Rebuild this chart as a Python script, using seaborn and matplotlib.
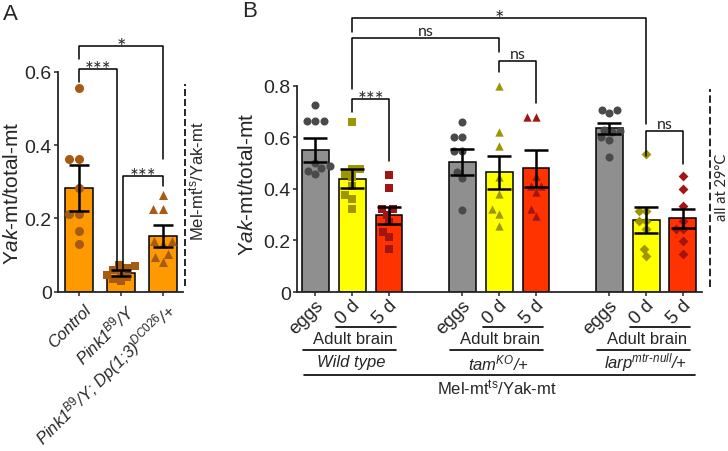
import warnings
import numpy as np
import pandas as pd
import matplotlib.pyplot as plt
import matplotlib.transforms as mtransforms
import seaborn as sns

warnings.filterwarnings('ignore')

# Panel A values (Yak-mt / total-mt)
a_labels = ['Control', 'Pink1$^{B9}$/Y', 'Pink1$^{B9}$/Y; Dp(1;3)$^{DC026}$/+']
a_means = [0.283, 0.051, 0.152]
a_sems = [0.063, 0.007, 0.031]
a_control = [0.555, 0.362, 0.362, 0.282, 0.212, 0.212, 0.165, 0.130]
a_pink1 = [0.074, 0.070, 0.066, 0.058, 0.052, 0.046, 0.040, 0.034, 0.028]
a_rescue = [0.264, 0.225, 0.225, 0.139, 0.139, 0.130, 0.103, 0.096, 0.082]

# Panel B values
b_groups = ['Wild type', 'tam$^{KO}$/+', 'larp$^{mtr\\text{-}null}$/+']
b_conds = ['eggs', '0 d', '5 d']
b_means = [0.552, 0.440, 0.297, 0.504, 0.464, 0.481, 0.635, 0.280, 0.286]
b_sems = [0.047, 0.036, 0.033, 0.050, 0.065, 0.072, 0.021, 0.050, 0.036]
wt_eggs = [0.726, 0.663, 0.663, 0.663, 0.500, 0.490, 0.480, 0.470, 0.458]
wt_0d = [0.659, 0.478, 0.478, 0.460, 0.445, 0.413, 0.377, 0.361, 0.322]
wt_5d = [0.454, 0.403, 0.322, 0.322, 0.300, 0.271, 0.232, 0.212, 0.167]
tam_eggs = [0.659, 0.601, 0.601, 0.549, 0.549, 0.465, 0.441, 0.320]
tam_0d = [0.801, 0.623, 0.568, 0.445, 0.381, 0.322, 0.303, 0.258]
tam_5d = [0.678, 0.678, 0.452, 0.413, 0.413, 0.387, 0.322, 0.296]
larp_eggs = [0.708, 0.708, 0.695, 0.630, 0.625, 0.620, 0.600, 0.590, 0.523]
larp_0d = [0.536, 0.316, 0.316, 0.277, 0.277, 0.245, 0.167, 0.141]
larp_5d = [0.449, 0.400, 0.335, 0.277, 0.245, 0.245, 0.199, 0.148]
b_points = [wt_eggs, wt_0d, wt_5d, tam_eggs, tam_0d, tam_5d, larp_eggs, larp_0d, larp_5d]

bar_cols = {'eggs': '#8f8f8f', '0 d': '#ffff00', '5 d': '#ff3300'}
dot_cols = {'eggs': '#4a4a4a', '0 d': '#9e9600', '5 d': '#a31515'}
grp_markers = ['s', '^', 'D']

sns.set_style('ticks')
plt.rcParams['font.family'] = ['Liberation Sans', 'DejaVu Sans']
plt.rcParams['mathtext.fontset'] = 'custom'
plt.rcParams['mathtext.rm'] = 'Liberation Sans'
plt.rcParams['mathtext.it'] = 'Liberation Sans:italic'
plt.rcParams['mathtext.bf'] = 'Liberation Sans:bold'

fig = plt.figure(figsize=(7.28, 4.52), dpi=100)
axA = fig.add_axes([58 / 728, (452 - 292.7) / 452, 125 / 728, 272.7 / 452])
axB = fig.add_axes([297 / 728, (452 - 293) / 452, 405 / 728, 288 / 452])

star_font = ['Lato', 'DejaVu Sans']


def dots(ax, x, vals, color, marker, size):
    sns.swarmplot(x=np.full(len(vals), float(x)), y=vals, native_scale=True, orient='x',
                  color=color, marker=marker, size=size, linewidth=0, zorder=3, ax=ax)


def bracket(ax, x1, x2, y, low1, low2, text, size, txt_off):
    ax.plot([x1, x1, x2, x2], [low1, y, y, low2], color='k', lw=1.1, clip_on=False, zorder=5)
    ax.annotate(text, ((x1 + x2) / 2, y), xytext=(0, txt_off), textcoords='offset points',
                ha='center', va='baseline', fontsize=size, family=star_font)


def rot_labels(ax, positions, labels, dx, dy, size, style):
    trans = ax.get_xaxis_transform() + mtransforms.ScaledTranslation(dx / 100, -dy / 100, fig.dpi_scale_trans)
    for p, lab in zip(positions, labels):
        ax.text(p, 0, lab, transform=trans, rotation=45, rotation_mode='anchor',
                ha='right', va='center', fontsize=size, style=style)


def style_axis(ax, top):
    sns.despine(ax=ax)
    ax.spines['left'].set_bounds(0, top)
    for s in ['left', 'bottom']:
        ax.spines[s].set_linewidth(1.3)
    ax.tick_params(axis='both', direction='out', length=3, width=1.1, labelsize=14, pad=1.5)


# ---------- Panel A ----------
a_pos = list(range(len(a_means)))
sns.barplot(x=a_pos, y=a_means, native_scale=True, width=0.67, color='#ff9900', saturation=1,
            edgecolor='k', linewidth=1.1, errorbar=None, ax=axA, zorder=1)
for p, vals, m, sz in zip(a_pos, [a_control, a_pink1, a_rescue], ['o', 's', '^'], [6.5, 5.5, 6.5]):
    dots(axA, p, vals, '#a65a12', m, sz)
axA.errorbar(a_pos, a_means, yerr=a_sems, fmt='none', ecolor='k', elinewidth=1.8,
             capsize=7, capthick=1.8, zorder=4)
axA.set_xlim(-0.5, 2.48)
axA.set_ylim(0, 0.744)
axA.set_yticks([0, 0.2, 0.4, 0.6], labels=['0', '0.2', '0.4', '0.6'])
axA.set_xticks(a_pos, labels=[])
style_axis(axA, 0.6)
axA.set_xlabel('')
axA.set_ylabel('Y$ak$-mt/total-mt', fontsize=15)
axA.yaxis.set_label_coords(-0.29, 0.363)
rot_labels(axA, a_pos, a_labels, 10, 15, 12, 'italic')

bracket(axA, 0, 2, 0.67, 0.635, 0.362, '*', 16, -5)
bracket(axA, 0, 0.905, 0.607, 0.571, 0.062, '***', 15, -5)
bracket(axA, 1.055, 2, 0.315, 0.062, 0.289, '***', 15, -5)

axA.plot([1.016, 1.016], [0.021, 0.762], transform=axA.transAxes, color='k', lw=1.2,
         ls=(0, (4.2, 1.8)), clip_on=False)
axA.text(1.112, 0.41, 'Mel-mt$^{\\mathrm{ts}}$/Yak-mt', transform=axA.transAxes, rotation=90,
         ha='center', va='center', fontsize=12)

# ---------- Panel B ----------
b_pos = [4 * g + c for g in range(len(b_groups)) for c in range(len(b_conds))]
b_cond_col = [c for _ in b_groups for c in b_conds]
dfB = pd.DataFrame({'pos': b_pos, 'mean': b_means, 'cond': b_cond_col})
sns.barplot(data=dfB, x='pos', y='mean', hue='cond', palette=bar_cols, native_scale=True,
            dodge=False, width=0.73, saturation=1, edgecolor='k', linewidth=1.1, errorbar=None,
            legend=False, ax=axB, zorder=1)
for i, (p, vals, c) in enumerate(zip(b_pos, b_points, b_cond_col)):
    m = 'o' if c == 'eggs' else grp_markers[i // 3]
    sz = {'o': 5.8, 's': 5.5, '^': 6, 'D': 5}[m]
    dots(axB, p, vals, dot_cols[c], m, sz)
axB.errorbar(b_pos, b_means, yerr=b_sems, fmt='none', ecolor='k', elinewidth=1.8,
             capsize=8.5, capthick=1.8, zorder=4)
axB.set_xlim(-0.503, 10.52)
axB.set_ylim(0, 1.118)
axB.set_yticks([0, 0.2, 0.4, 0.6, 0.8], labels=['0', '0.2', '0.4', '0.6', '0.8'])
axB.set_xticks(b_pos, labels=[])
style_axis(axB, 0.8)
axB.set_xlabel('')
axB.set_ylabel('Y$ak$-mt/total-mt', fontsize=15)
axB.yaxis.set_label_coords(-0.099, 0.378)
rot_labels(axB, b_pos, b_cond_col, 5, 10, 13.5, 'normal')

bracket(axB, 1, 9, 1.064, 1.01, 0.652, '*', 16, -5)
bracket(axB, 1, 5, 0.986, 0.788, 0.932, 'ns', 11.5, 2)
bracket(axB, 1, 2, 0.75, 0.699, 0.509, '***', 15, -5)
bracket(axB, 5, 6, 0.897, 0.854, 0.734, 'ns', 11.5, 2)
bracket(axB, 9, 10, 0.625, 0.528, 0.497, 'ns', 11.5, 2)

tb = axB.get_xaxis_transform()
for g, name in enumerate(b_groups):
    x0 = 4 * g
    axB.plot([x0 + 0.56, x0 + 2.19], [-0.1215, -0.1215], transform=tb, color='k', lw=1.2, clip_on=False)
    axB.text(x0 + 1.02, -0.160, 'Adult brain', transform=tb, ha='center', va='center', fontsize=12)
    axB.plot([x0 - 0.34, x0 + 2.19], [-0.201, -0.201], transform=tb, color='k', lw=1.2, clip_on=False)
    axB.text(x0 + 0.97, -0.243, name, transform=tb, ha='center', va='center', fontsize=12, style='italic')
axB.plot([-0.31, 10.33], [-0.288, -0.288], transform=tb, color='k', lw=1.2, clip_on=False)
axB.text(4.94, -0.33, 'Mel-mt$^{\\mathrm{ts}}$/Yak-mt', transform=tb, ha='center', va='center', fontsize=12)

axB.plot([1.02, 1.02], [0.017, 0.705], transform=axB.transAxes, color='k', lw=1.2,
         ls=(0, (4.5, 2)), clip_on=False)
axB.text(1.049, 0.368, 'all at 29°C', transform=axB.transAxes, rotation=90,
         ha='center', va='center', fontsize=10.5, family=star_font)

fig.text(3 / 728, 1 - 4 / 452, 'A', ha='left', va='top', fontsize=16)
fig.text(242 / 728, 1 - 1 / 452, 'B', ha='left', va='top', fontsize=16)

fig.savefig('out.png', dpi=100)
